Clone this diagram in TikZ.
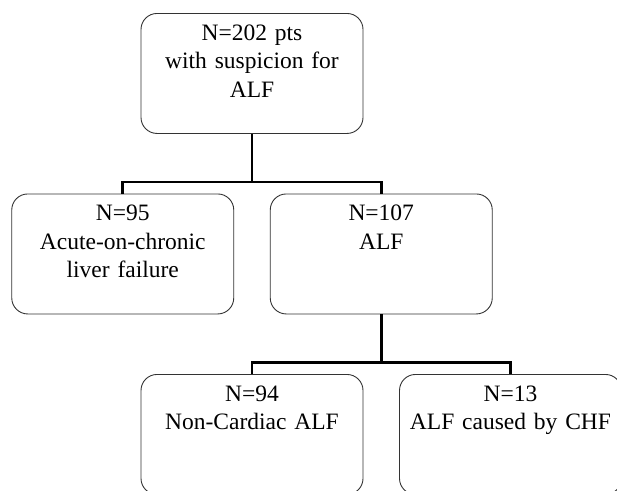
\documentclass[tikz,border=0pt]{standalone}
\usepackage{fontspec}
\setmainfont{Liberation Serif}
\usetikzlibrary{calc}
\tikzset{box/.style={draw=black!80,line width=0.9pt,rounded corners=16pt,anchor=north,minimum width=222pt,text width=202pt,align=center,inner sep=10pt,text height=17pt,text depth=83pt,font=\fontsize{23.5}{28.5}\selectfont},link/.style={line width=2.6pt,black}}

\begin{document}
\begin{tikzpicture}[x=1pt,y=1pt]

\useasboundingbox (0,0) rectangle (617,-490);

% Steps
\coordinate (colstep) at (258.5,0);
\coordinate (rowstep) at (0,-180.5);
\coordinate (drop) at (0,-48);

% Boxes
\node[box] (all) at (252,-13) {N=202 pts\\with suspicion for\\ALF};
\node[box] (aclf) at ($(all.north) + (rowstep) - 0.5*(colstep)$) {N=95\\Acute-on-chronic\\liver failure};
\node[box] (alf) at ($(all.north) + (rowstep) + 0.5*(colstep)$) {N=107\\ALF};
\node[box] (noncard) at ($(alf.north) + (rowstep) - 0.5*(colstep)$) {N=94\\Non-Cardiac ALF};
\node[box] (chf) at ($(alf.north) + (rowstep) + 0.5*(colstep)$) {N=13\\ALF caused by CHF};

% Connectors
\coordinate (bus1) at ($(all.south) + (drop)$);
\draw[link] (all.south) -- (bus1) -| (aclf.north);
\draw[link] (bus1) -| (alf.north);

\coordinate (bus2) at ($(alf.south) + (drop)$);
\draw[link] (alf.south) -- (bus2) -| (noncard.north);
\draw[link] (bus2) -| (chf.north);

\end{tikzpicture}
\end{document}
